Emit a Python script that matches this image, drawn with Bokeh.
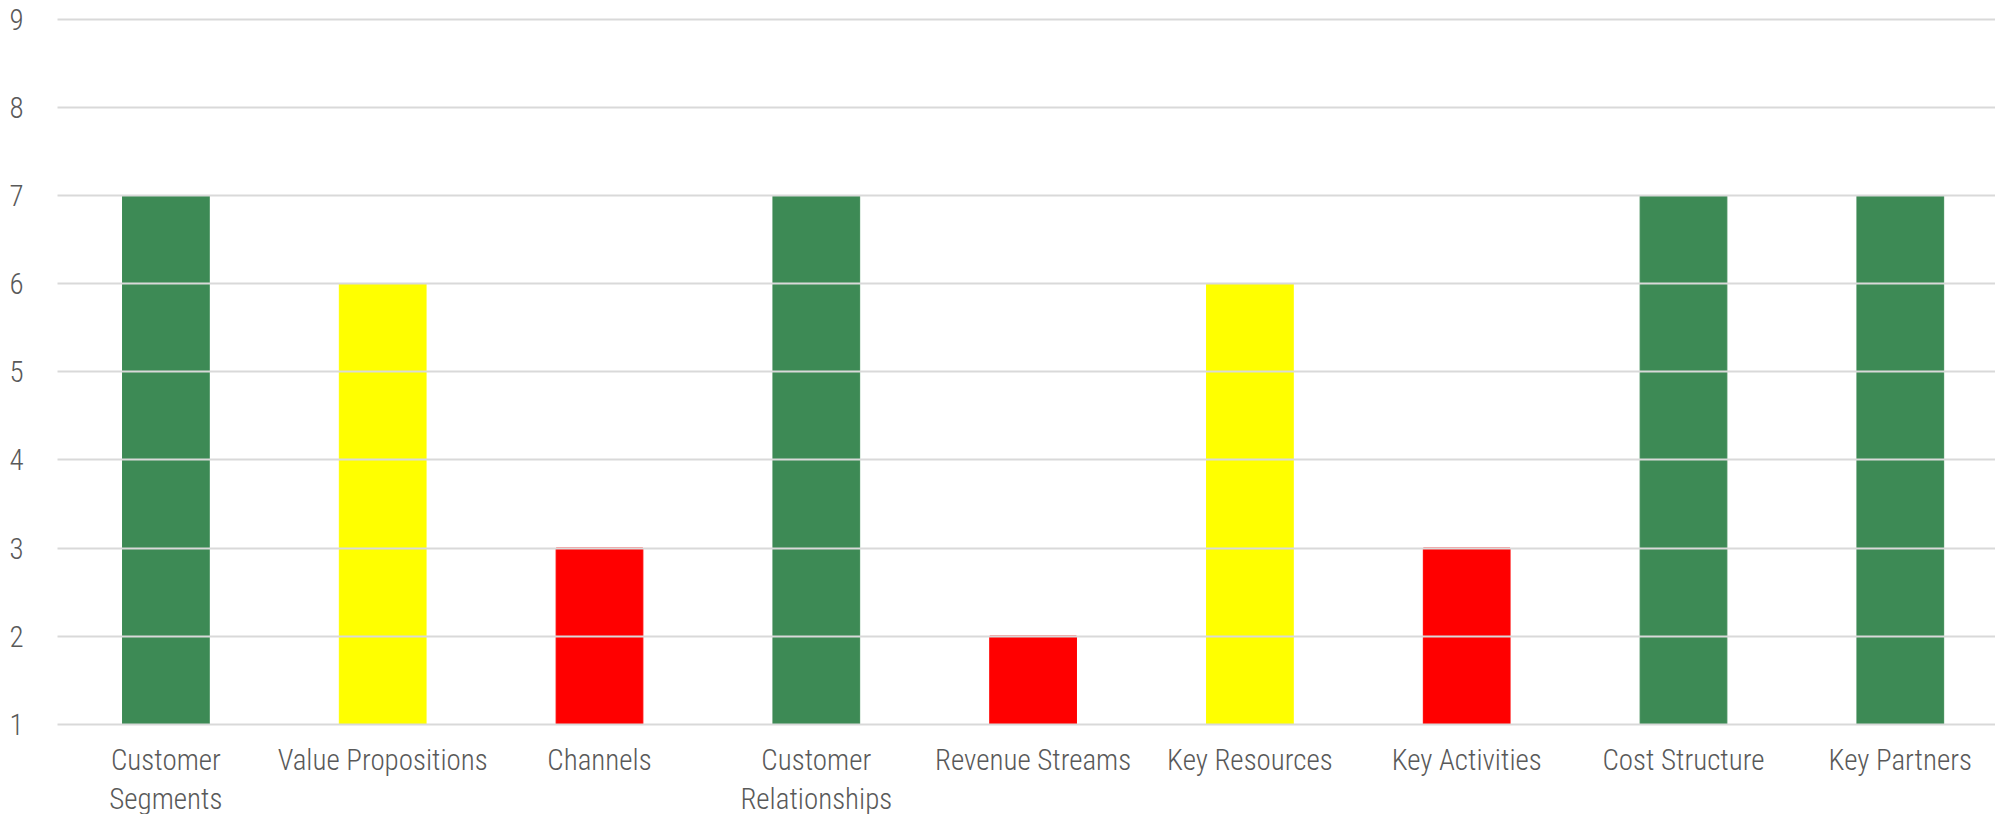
from bokeh.plotting import figure
from bokeh.models import ColumnDataSource, Range1d, FixedTicker
from bokeh.embed import file_html
from bokeh.resources import INLINE

categories = ["Customer\nSegments", "Value Propositions", "Channels", "Customer\nRelationships",
              "Revenue Streams", "Key Resources", "Key Activities", "Cost Structure", "Key Partners"]
values = [7, 6, 3, 7, 2, 6, 3, 7, 7]
colors = ["#3D8A55", "#FFFF00", "#FF0000", "#3D8A55", "#FF0000", "#FFFF00", "#FF0000", "#3D8A55", "#3D8A55"]
y_ticks = [1, 2, 3, 4, 5, 6, 7, 8, 9]

xs = list(range(len(categories)))
src = ColumnDataSource(dict(x=xs, top=values, color=colors))

TXT = "#595959"
FW = 1938

p = figure(frame_width=FW, frame_height=706, output_backend="svg", toolbar_location=None,
           x_range=Range1d(-0.5, -0.5 + FW / 216.8), y_range=Range1d(0.995, 9.015),
           min_border_left=57, min_border_right=0, min_border_top=18, min_border_bottom=10)
p.outline_line_color = None
p.vbar(x="x", top="top", bottom=1, width=0.4, color="color", source=src)

p.xaxis.ticker = FixedTicker(ticks=xs)
p.xaxis.major_label_overrides = {i: c for i, c in enumerate(categories)}
p.yaxis.ticker = FixedTicker(ticks=y_ticks)
for ax in (p.xaxis, p.yaxis):
    ax.axis_line_color = None
    ax.major_tick_line_color = None
    ax.minor_tick_line_color = None
    ax.major_label_text_color = TXT
    ax.major_label_text_font = "Roboto Condensed Light"
p.xaxis.major_label_text_font_size = "29px"
p.xaxis.major_label_text_line_height = 1.15
p.xaxis.major_label_standoff = 12
p.yaxis.major_label_text_font_size = "29px"
p.yaxis.major_label_standoff = 28

p.xgrid.grid_line_color = None
p.ygrid.grid_line_color = "#D9D9D9"
p.ygrid.grid_line_width = 2
p.ygrid.level = "overlay"

open("out.html", "w").write(file_html(p, INLINE))
